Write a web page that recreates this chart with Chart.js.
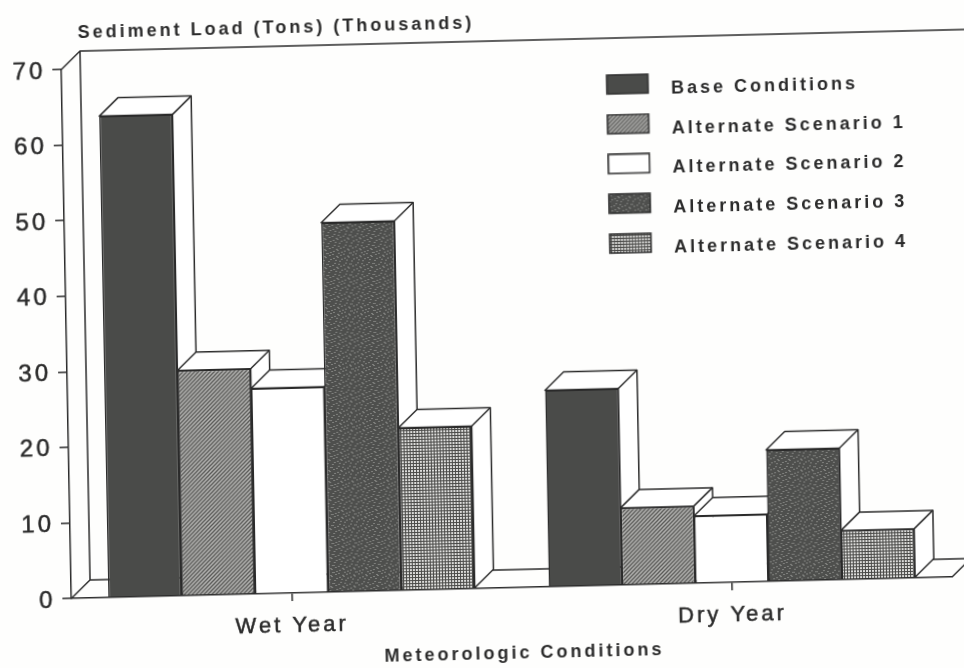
<!DOCTYPE html>
<html>
<head>
  <title>Sediment Load</title>
  <script src="https://cdn.jsdelivr.net/npm/chart.js"></script>
  <style>
    html, body { margin: 0; height: 100%; overflow: hidden; background: #fefefd; }
    /* the scanned page sits slightly crooked */
    #chart {
      position: absolute; left: 0; top: 0;
      transform-origin: 0 0;
      transform: matrix(1, -0.0244, 0.019, 1, 0, 0);
      filter: blur(0.5px);
    }
  </style>
</head>
<body>
  <canvas id="chart" width="1000" height="720"></canvas>

  <script>
    const categories = ['Wet Year', 'Dry Year'];
    const seriesNames = ['Base Conditions', 'Alternate Scenario 1', 'Alternate Scenario 2', 'Alternate Scenario 3', 'Alternate Scenario 4'];
    const baseConditions = [63.7, 26.0];
    const scenario1 = [29.8, 10.2];
    const scenario2 = [27.2, 8.9];
    const scenario3 = [48.9, 17.4];
    const scenario4 = [21.5, 6.5];
    const yTicks = [0, 10, 20, 30, 40, 50, 60, 70];
    const xTitle = 'Meteorologic Conditions';

    const INK = '#2b2b2b';
    const FONT = '"Liberation Sans", Arial';
    const SPACING = '3px';
    const DEPTH_X = 19;
    const DEPTH_Y = -18;

    function tile(w, h, paint) {
      const c = document.createElement('canvas');
      c.width = w; c.height = h;
      paint(c.getContext('2d'));
      return c;
    }

    const hatch = tile(4, 4, g => {
      g.fillStyle = '#b4b4b2';
      g.fillRect(0, 0, 4, 4);
      g.strokeStyle = '#5a5a58';
      g.lineWidth = 1.3;
      g.beginPath();
      g.moveTo(-1, 5); g.lineTo(5, -1);
      g.moveTo(-3, 3); g.lineTo(3, -3);
      g.moveTo(1, 7); g.lineTo(7, 1);
      g.stroke();
    });
    const mottled = tile(23, 29, g => {
      g.fillStyle = '#4e4f4d';
      g.fillRect(0, 0, 23, 29);
      g.fillStyle = '#7f807d';
      for (let y = 0; y < 29; y++) {
        for (let x = 0; x < 23; x++) {
          if ((x * 37 + y * 91 + x * y * 13) % 11 === 0) g.fillRect(x, y, 2, 1);
        }
      }
    });
    const grid = tile(3, 3, g => {
      g.fillStyle = '#dcdcda';
      g.fillRect(0, 0, 3, 3);
      g.fillStyle = '#4a4a48';
      g.fillRect(0, 2, 3, 1);
      g.fillRect(2, 0, 1, 3);
    });

    const ctx = document.getElementById('chart').getContext('2d');
    ctx.letterSpacing = SPACING;

    const fills = ['#4a4b49', ctx.createPattern(hatch, 'repeat'), '#ffffff', ctx.createPattern(mottled, 'repeat'), ctx.createPattern(grid, 'repeat')];

    // legend swatch plus blank space: the label sits further out and a little lower than the box
    const swatches = fills.map(f => tile(56, 32, g => {
      g.fillStyle = f;
      g.fillRect(1, 1, 41, 19);
      g.strokeStyle = INK;
      g.lineWidth = 1.5;
      g.strokeRect(1, 1, 41, 19);
    }));

    const box3d = {
      id: 'box3d',
      beforeDraw(chart) {
        chart.ctx.letterSpacing = SPACING;
      },
      afterLayout(chart) {
        const legend = chart.legend;
        legend.left = 582.5; legend.right = 960;
        legend.top = 74; legend.bottom = 300;
        chart.titleBlock.left = 77;
      },
      beforeDatasetsDraw(chart) {
        const g = chart.ctx;
        const a = chart.chartArea;
        g.save();
        g.strokeStyle = INK;
        g.lineWidth = 1.5;
        g.lineJoin = 'round';

        // back wall and floor
        g.beginPath();
        g.moveTo(a.left, a.top);
        g.lineTo(a.left + DEPTH_X, a.top + DEPTH_Y);
        g.lineTo(a.right + DEPTH_X + 20, a.top + DEPTH_Y);
        g.moveTo(a.left + DEPTH_X, a.top + DEPTH_Y);
        g.lineTo(a.left + DEPTH_X, a.bottom + DEPTH_Y);
        g.lineTo(a.right + DEPTH_X + 20, a.bottom + DEPTH_Y);
        g.moveTo(a.left, a.bottom);
        g.lineTo(a.left + DEPTH_X, a.bottom + DEPTH_Y);
        g.moveTo(a.right, a.bottom);
        g.lineTo(a.right + DEPTH_X, a.bottom + DEPTH_Y);
        g.stroke();

        // tops and right sides, left to right so nearer boxes cover the others
        categories.forEach((_, i) => {
          seriesNames.forEach((_, d) => {
            const bar = chart.getDatasetMeta(d).data[i];
            const l = bar.x - bar.width / 2;
            const r = bar.x + bar.width / 2;
            g.fillStyle = '#ffffff';
            g.beginPath();
            g.moveTo(l, bar.y);
            g.lineTo(l + DEPTH_X, bar.y + DEPTH_Y);
            g.lineTo(r + DEPTH_X, bar.y + DEPTH_Y);
            g.lineTo(r + DEPTH_X, bar.base + DEPTH_Y);
            g.lineTo(r, bar.base);
            g.lineTo(r, bar.y);
            g.closePath();
            g.fill();
            g.stroke();
            g.beginPath();
            g.moveTo(r, bar.y);
            g.lineTo(r + DEPTH_X, bar.y + DEPTH_Y);
            g.stroke();
          });
        });
        g.restore();
      },
      // sits right of the axis centre in the original, which a scale title cannot do
      afterDraw(chart) {
        const g = chart.ctx;
        g.save();
        g.fillStyle = INK;
        g.font = 'bold 18px ' + FONT;
        g.textAlign = 'center';
        g.textBaseline = 'middle';
        g.fillText(xTitle, 512, 666);
        g.restore();
      }
    };

    new Chart(ctx, {
      type: 'bar',
      data: {
        labels: categories,
        datasets: [baseConditions, scenario1, scenario2, scenario3, scenario4].map((values, d) => ({
          label: seriesNames[d],
          data: values,
          backgroundColor: fills[d],
          borderColor: INK,
          borderWidth: 1.5,
          categoryPercentage: 0.832,
          barPercentage: 1
        }))
      },
      options: {
        responsive: false,
        animation: false,
        devicePixelRatio: 1,
        layout: { padding: { left: 0, right: 59, top: 0, bottom: 0 } },
        plugins: {
          tooltip: { enabled: false },
          title: {
            display: true,
            text: 'Sediment Load (Tons) (Thousands)',
            align: 'start',
            color: INK,
            font: { family: FONT, size: 18, weight: 'bold', lineHeight: 1.2 },
            padding: { top: 24, bottom: 25.4 }
          },
          legend: {
            position: 'chartArea',
            align: 'start',
            labels: {
              color: INK,
              font: { family: FONT, size: 18, weight: 'bold' },
              usePointStyle: true,
              pointStyleWidth: 56,
              padding: 21.8,
              generateLabels: chart => Chart.defaults.plugins.legend.labels.generateLabels(chart)
                .map(item => ({ ...item, pointStyle: swatches[item.datasetIndex] }))
            }
          }
        },
        scales: {
          x: {
            afterFit: s => { s.height = 120; },
            grid: { drawOnChartArea: false, offset: false, color: INK, lineWidth: 1.5, tickLength: 8 },
            border: { color: INK, width: 1.5 },
            ticks: {
              color: INK,
              maxRotation: 0,
              padding: 12,
              textStrokeColor: INK,
              textStrokeWidth: 0.5,
              font: { family: FONT, size: 22 }
            }
          },
          y: {
            min: 0,
            max: 70,
            afterFit: s => { s.width = 60; },
            afterBuildTicks: s => { s.ticks = yTicks.map(v => ({ value: v })); },
            grid: { drawOnChartArea: false, color: INK, lineWidth: 1.5, tickLength: 9 },
            border: { color: INK, width: 1.5 },
            ticks: {
              color: INK,
              padding: 7,
              labelOffset: 2,
              textStrokeColor: INK,
              textStrokeWidth: 0.5,
              font: { family: FONT, size: 24 }
            }
          }
        }
      },
      plugins: [box3d]
    });
  </script>
</body>
</html>
